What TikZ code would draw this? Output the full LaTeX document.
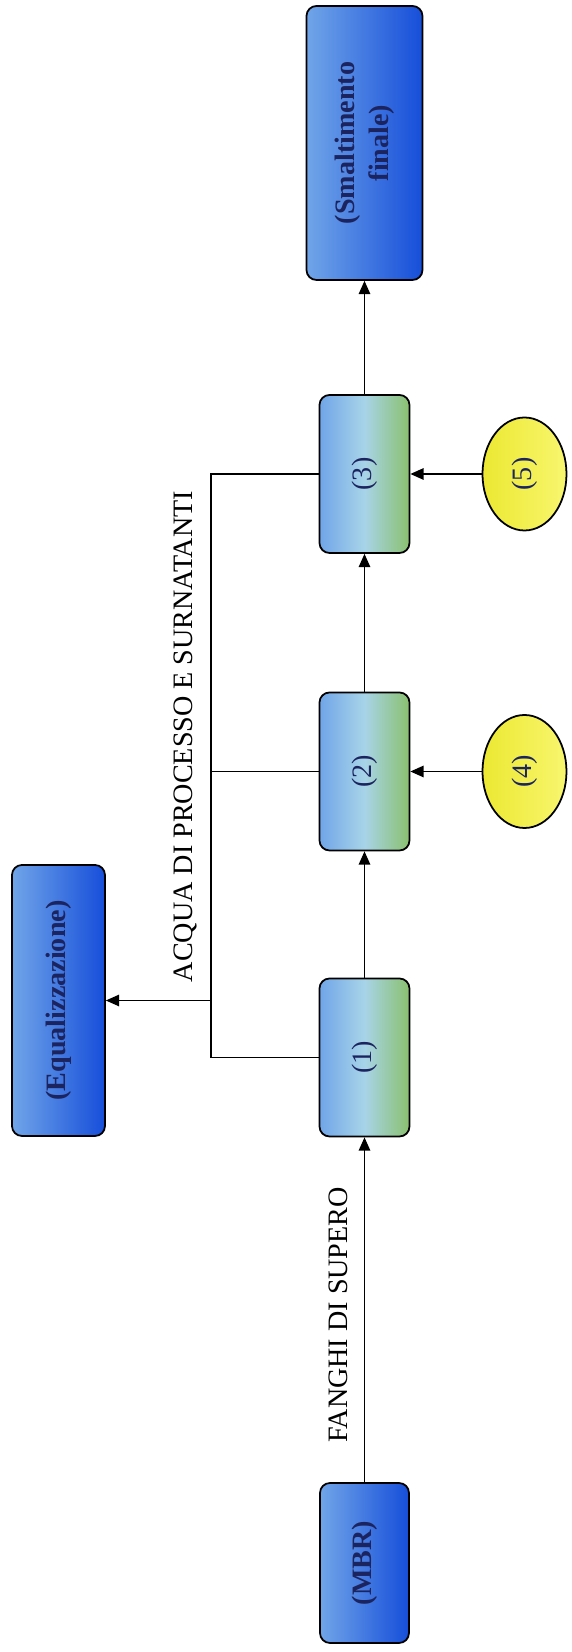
\documentclass[tikz,border=0pt]{standalone}
\usepackage{fontspec}
\setmainfont{Liberation Serif}
\usepackage{tikz}
\usetikzlibrary{positioning,shapes.geometric,arrows.meta}

\definecolor{bluelight}{RGB}{112,165,232}
\definecolor{bluedark}{RGB}{22,78,218}
\definecolor{tealmid}{RGB}{168,212,232}
\definecolor{greenside}{RGB}{138,192,110}
\definecolor{yellowdark}{RGB}{236,232,50}
\definecolor{yellowlight}{RGB}{248,246,110}
\definecolor{labelnavy}{RGB}{28,36,96}
\newcommand{\diagfont}{\fontsize{16}{19.5}\selectfont}

\begin{document}
\begin{tikzpicture}[rotate=90, transform shape,
	>={Triangle[length=7.5pt,width=6.5pt]},
	unitbox/.style={draw, rounded corners=0.2cm, line width=1pt, text=labelnavy, align=center},
	bluebox/.style={unitbox, left color=bluelight, right color=bluedark, font=\diagfont\bfseries},
	stagebox/.style={unitbox, left color=bluelight, right color=greenside, middle color=tealmid, minimum width=3.16cm, minimum height=1.8cm, font=\diagfont},
	dosing/.style={draw, ellipse, line width=1pt, left color=yellowdark, right color=yellowlight, text=labelnavy, minimum width=2.26cm, minimum height=1.68cm, font=\diagfont},
	flow/.style={draw, line width=0.8pt, ->},
	bus/.style={draw, line width=0.8pt},
	tag/.style={font=\diagfont, anchor=base}]
	\useasboundingbox (0, 0) rectangle (33.04, 11.44);
	\node [bluebox, minimum width=3.2cm, minimum height=1.78cm] (MBR) at (1.78, 4.15) {(MBR)};
	\node [stagebox] (P1) at (11.89, 4.15) {(1)};
	\node [stagebox] (P2) at (17.61, 4.15) {(2)};
	\node [stagebox] (P3) at (23.56, 4.15) {(3)};
	\node [bluebox, minimum width=5.48cm, minimum height=2.32cm] (SMF) at (30.18, 4.15) {(Smaltimento\\finale)};
	\node [bluebox, minimum width=5.42cm, minimum height=1.86cm] (EQZ) at (13.03, 10.27) {(Equalizzazione)};
	\node [dosing] (D4) at (17.61, 0.95) {(4)};
	\node [dosing] (D5) at (23.56, 0.95) {(5)};
	\coordinate (B1) at (11.89, 7.22);
	\coordinate (B2) at (17.61, 7.22);
	\coordinate (B3) at (23.56, 7.22);
	\coordinate (BQ) at (13.03, 7.22);
	\path [flow] (MBR) -- (P1) node[tag, pos=0.485, yshift=0.33cm]{FANGHI DI SUPERO};
	\path [flow] (P1) -- (P2);
	\path [flow] (P2) -- (P3);
	\path [flow] (P3) -- (SMF);
	\path [flow] (D4) -- (P2);
	\path [flow] (D5) -- (P3);
	\path [bus] (P1) -- (B1) -- (B3) node[tag, pos=0.55, yshift=0.36cm]{ACQUA DI PROCESSO E SURNATANTI} -- (P3);
	\path [bus] (P2) -- (B2);
	\path [flow] (BQ) -- (EQZ);
\end{tikzpicture}
\end{document}
